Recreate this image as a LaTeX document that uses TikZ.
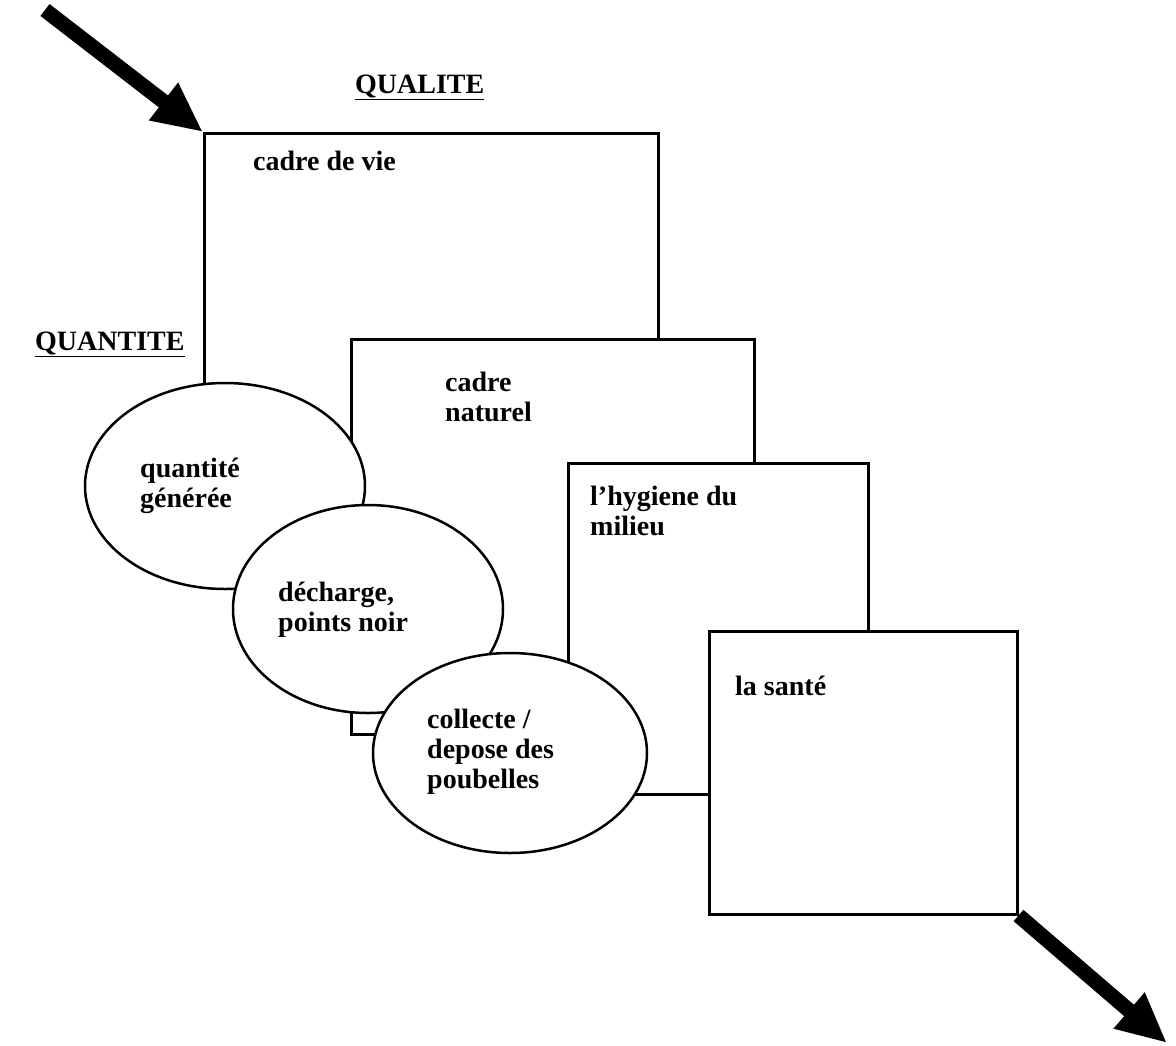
\documentclass[tikz,border=0pt]{standalone}
\usepackage{fontspec}
\setmainfont{Liberation Serif}
\usetikzlibrary{arrows.meta,shapes.geometric}
% stacked lines, aligned on the baseline of the first one
\newcommand{\stacklines}[1]{\begin{tabular}[t]{@{}l@{}}#1\end{tabular}}
\begin{document}
\begin{tikzpicture}[x=1pt,y=-1pt,
  panel/.style={draw, line width=2.5pt, fill=white, rectangle, anchor=north west, inner sep=0pt},
  bubble/.style={draw, line width=2.5pt, fill=white, ellipse, inner sep=0pt},
  lbl/.style={anchor=base west, inner sep=0pt, font=\fontsize{28}{30}\selectfont\bfseries},
  bigarrow/.style={line width=15pt, black, -{Triangle[length=50pt,width=44pt]}}]
\useasboundingbox (0,0) rectangle (1176,1045);

% the four stacked panels and the three bubbles, back to front
\node[panel, minimum width=454pt, minimum height=350pt] (cv) at (203,132) {};
\node[panel, minimum width=403pt, minimum height=395pt] (cn) at (350,338) {};
\node[panel, minimum width=300pt, minimum height=331pt] (hy) at (567,462) {};
\node[bubble, minimum width=280pt, minimum height=206pt] (qg) at (225,486) {};
\node[bubble, minimum width=270pt, minimum height=208pt] (de) at (368,609) {};
\node[bubble, minimum width=274pt, minimum height=200pt] (co) at (510,753) {};
\node[panel, minimum width=308pt, minimum height=283pt] (sa) at (708,630) {};

% headings
\node[lbl] (tqual) at (355,93) {\underline{QUALITE}};
\node[lbl] (tquant) at (35,350) {\underline{QUANTITE}};

% texts inside the shapes
\node[lbl] (tcv) at (253,170) {cadre de vie};
\node[lbl] (tcn) at (445,391) {\stacklines{cadre\\naturel}};
\node[lbl] (thy) at (590,505) {\stacklines{l'hygiene du\\milieu}};
\node[lbl] (tsa) at (735,695) {la santé};
\node[lbl] (tqg) at (140,477) {\stacklines{quantité\\générée}};
\node[lbl] (tde) at (278,601) {\stacklines{décharge,\\points noir}};
\node[lbl] (tco) at (427,728) {\stacklines{collecte /\\depose des\\poubelles}};

% entry and exit arrows
\coordinate (intail) at (45,10);
\coordinate (outtip) at (1167,1043);
\draw[bigarrow] (intail) -- (cv.north west);
\draw[bigarrow] (sa.south east) -- (outtip);
\end{tikzpicture}
\end{document}
